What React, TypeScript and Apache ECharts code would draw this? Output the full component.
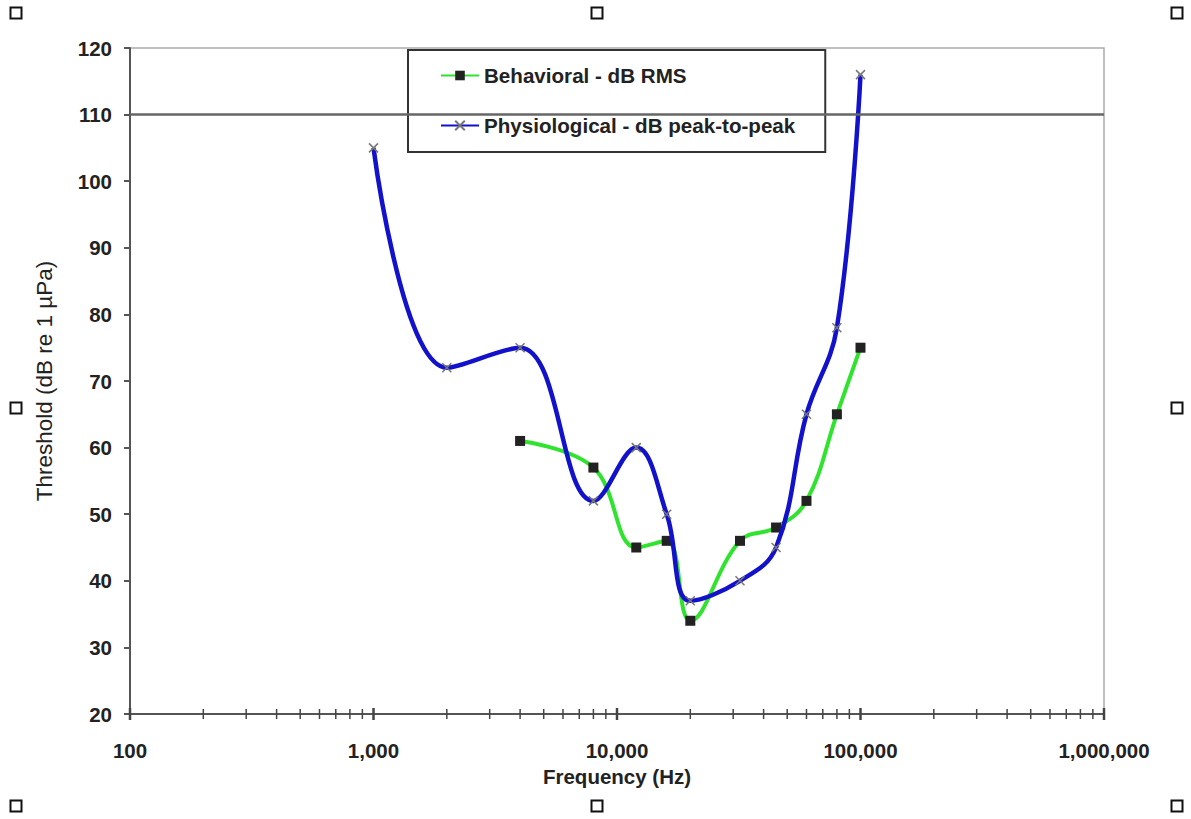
import React, { useEffect, useRef } from "react";
import * as echarts from "echarts";

const physFreq = [1000, 2000, 4000, 8000, 12000, 16000, 20000, 32000, 45000, 60000, 80000, 100000];
const physDb = [105, 72, 75, 52, 60, 50, 37, 40, 45, 65, 78, 116];
const behavFreq = [4000, 8000, 12000, 16000, 20000, 32000, 45000, 60000, 80000, 100000];
const behavDb = [61, 57, 45, 46, 34, 46, 48, 52, 65, 75];
const majorTicks = [100, 1000, 10000, 100000, 1000000];
const minorTicks = [
  200, 300, 400, 500, 600, 700, 800, 900,
  2000, 3000, 4000, 5000, 6000, 7000, 8000, 9000,
  20000, 30000, 40000, 50000, 60000, 70000, 80000, 90000,
  200000, 300000, 400000, 500000, 600000, 700000, 800000, 900000,
];
const yMin = 20;
const yMax = 120;
const yStep = 10;
const refLine = 110;
const names = ["Behavioral - dB RMS", "Physiological - dB peak-to-peak"];

const FONT = "'Liberation Sans', Arial, sans-serif";

export default function App() {
  const ref = useRef<HTMLDivElement>(null);
  useEffect(() => {
    if (!ref.current) return;
    const chart = echarts.init(ref.current, null, { renderer: "svg" });
    const handles = [
      [16, 13], [597, 13], [1177, 13], [16, 408], [1177, 408], [16, 806], [597, 806], [1177, 806],
    ].map(([x, y]) => ({
      type: "rect",
      shape: { x: x - 5.5, y: y - 5.5, width: 11, height: 11 },
      style: { fill: "#fff", stroke: "#111", lineWidth: 2 },
      z: 10,
    }));
    const tickData = [
      ...majorTicks.map((v) => [v, yMin, 1]),
      ...minorTicks.map((v) => [v, yMin, 0]),
    ];
    chart.setOption({
      animation: false,
      backgroundColor: "#fff",
      grid: {
        left: 130, right: 87, top: 48, bottom: 105,
        show: true, borderColor: "#aaa", borderWidth: 1.5, backgroundColor: "transparent",
      },
      legend: {
        data: names,
        orient: "vertical",
        left: 408,
        top: 50,
        backgroundColor: "#fff",
        borderColor: "#333",
        borderWidth: 2,
        borderRadius: 0,
        padding: [15, 30, 16, 32],
        itemGap: 29,
        itemWidth: 38,
        itemHeight: 12,
        textStyle: { fontFamily: FONT, fontWeight: "bold", fontSize: 20.6, color: "#222" },
      },
      xAxis: {
        type: "log",
        logBase: 10,
        min: 100,
        max: 1000000,
        name: "Frequency (Hz)",
        nameLocation: "middle",
        nameGap: 52,
        nameTextStyle: { fontFamily: FONT, fontWeight: "bold", fontSize: 20.5, color: "#222" },
        axisLine: { show: true, lineStyle: { color: "#555", width: 2 } },
        axisTick: { show: false },
        splitLine: { show: false },
        axisLabel: {
          margin: 26,
          fontFamily: FONT,
          fontWeight: "bold",
          fontSize: 20.5,
          color: "#222",
          formatter: (v: number) => Math.round(v).toLocaleString("en-US"),
        },
      },
      yAxis: {
        type: "value",
        min: yMin,
        max: yMax,
        interval: yStep,
        name: "Threshold (dB re 1 µPa)",
        nameLocation: "middle",
        nameGap: 74,
        nameTextStyle: { fontFamily: FONT, fontSize: 22.5, color: "#222" },
        axisLine: { show: true, lineStyle: { color: "#555", width: 2 } },
        axisTick: { show: true, length: 6, lineStyle: { color: "#555", width: 2 } },
        splitLine: { show: false },
        axisLabel: { margin: 18, fontFamily: FONT, fontWeight: "bold", fontSize: 20.5, color: "#222" },
      },
      series: [
        {
          name: names[0],
          type: "line",
          data: behavFreq.map((f, i) => [f, behavDb[i]]),
          smooth: 0.4,
          symbol: "rect",
          symbolSize: 10,
          lineStyle: { color: "#2fe32f", width: 4 },
          itemStyle: { color: "#222" },
          z: 3,
          markLine: {
            silent: true,
            symbol: "none",
            label: { show: false },
            lineStyle: { color: "#666", width: 2.5, type: "solid" },
            data: [{ yAxis: refLine }],
          },
        },
        {
          name: names[1],
          type: "line",
          data: physFreq.map((f, i) => [f, physDb[i]]),
          smooth: 0.4,
          symbol: "path://M0,0L10,10M10,0L0,10",
          symbolSize: 9,
          lineStyle: { color: "#1212cc", width: 4.5 },
          itemStyle: { color: "rgba(0,0,0,0)", borderColor: "#777", borderWidth: 1.5 },
          z: 4,
        },
        {
          name: "ticks",
          type: "custom",
          silent: true,
          data: tickData,
          z: 5,
          renderItem: (params: any, api: any) => {
            const p = api.coord([api.value(0), api.value(1)]);
            const major = api.value(2) === 1;
            const h = major ? 6 : 5;
            return {
              type: "line",
              shape: { x1: p[0], y1: p[1] - h, x2: p[0], y2: p[1] + h },
              style: { stroke: "#444", lineWidth: major ? 2.5 : 1.5 },
            };
          },
        },
      ],
      graphic: handles,
    });
    return () => chart.dispose();
  }, []);
  return <div ref={ref} style={{ width: 1191, height: 819, position: "absolute", left: 0, top: 0 }} />;
}
